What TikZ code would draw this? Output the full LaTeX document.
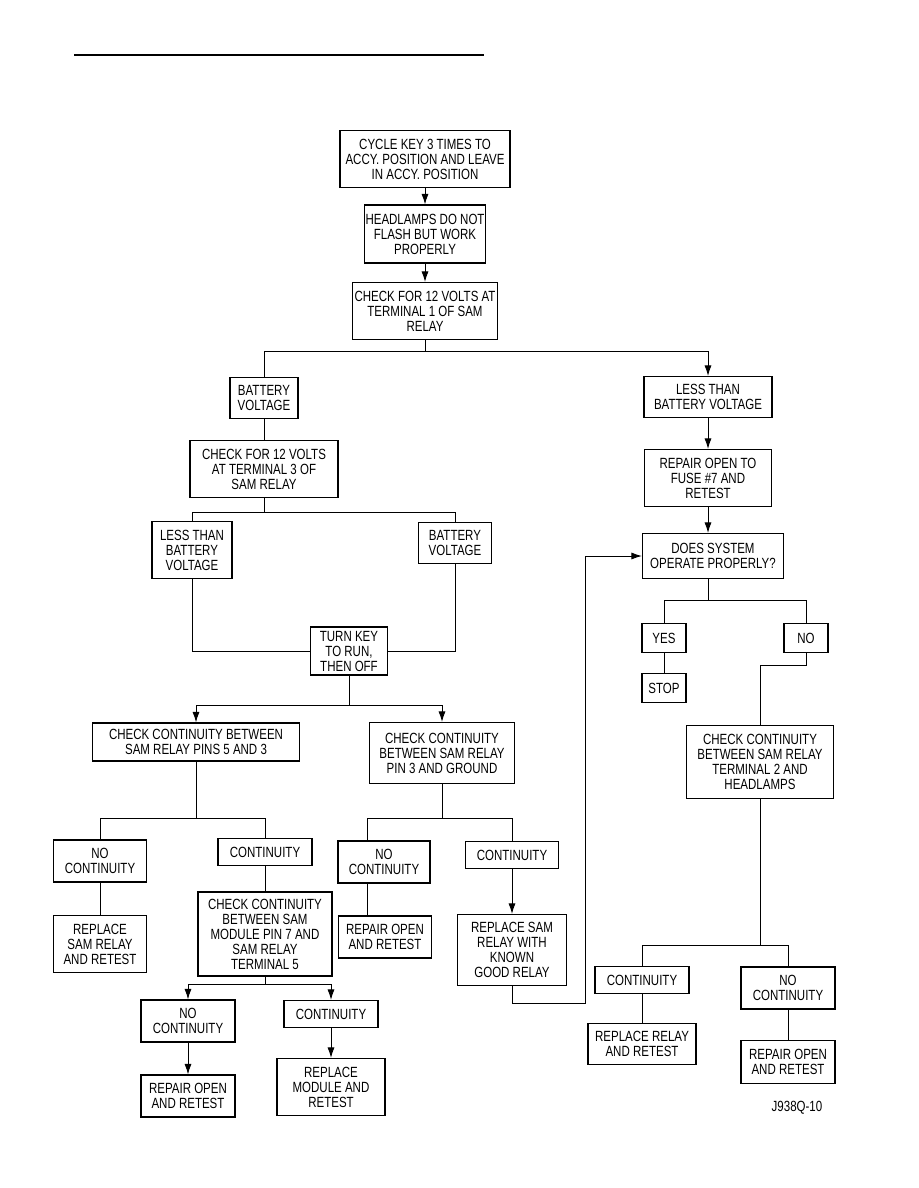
\documentclass[tikz,border=0pt]{standalone}
\usepackage{fontspec}
\setmainfont{Liberation Sans}[FakeStretch=0.78]
\usetikzlibrary{positioning,arrows.meta}

\begin{document}
\begin{tikzpicture}[x=0.03cm, y=-0.03cm, >={Latex[length=9pt,width=6pt]},
    line width=0.8pt,
    font=\fontsize{12.6}{12.8}\selectfont,
    sbox/.style={draw, line width=0.9pt, align=center, inner sep=1pt}
]
    \useasboundingbox (0,0) rectangle (918,1188);
    % Heading rule
    \draw[line width=2.2pt] (74,55) -- (484,55);

    % Start of the test
    \node[sbox, minimum width=5.1cm, minimum height=1.71cm] (cyc) at (425,159)
        {CYCLE KEY 3 TIMES TO\\ACCY. POSITION AND LEAVE\\IN ACCY. POSITION};
    \node[sbox, minimum width=3.6cm, minimum height=1.74cm] (head) at (425,234)
        {HEADLAMPS DO NOT\\FLASH BUT WORK\\PROPERLY};
    \node[sbox, minimum width=4.35cm, minimum height=1.71cm] (chk1) at (425,311)
        {CHECK FOR 12 VOLTS AT\\TERMINAL 1 OF SAM\\RELAY};

    % Left branch (terminal 1 ok)
    \node[sbox, minimum width=2.04cm, minimum height=1.23cm] (bat1) at (264,398)
        {BATTERY\\VOLTAGE};
    \node[sbox, minimum width=4.44cm, minimum height=1.71cm] (chk3) at (264,469)
        {CHECK FOR 12 VOLTS\\AT TERMINAL 3 OF\\SAM RELAY};
    \node[sbox, minimum width=2.4cm, minimum height=1.71cm] (less2) at (192,550)
        {LESS THAN\\BATTERY\\VOLTAGE};
    \node[sbox, minimum width=2.19cm, minimum height=1.23cm] (bat2) at (455,543)
        {BATTERY\\VOLTAGE};
    \node[sbox, minimum width=2.31cm, minimum height=1.44cm] (turn) at (349,651)
        {TURN KEY\\TO RUN,\\THEN OFF};
    \node[sbox, minimum width=6.21cm, minimum height=1.14cm] (pin53) at (196,742)
        {CHECK CONTINUITY BETWEEN\\SAM RELAY PINS 5 AND 3};
    \node[sbox, minimum width=4.35cm, minimum height=1.83cm] (pin3g) at (442,753)
        {CHECK CONTINUITY\\BETWEEN SAM RELAY\\PIN 3 AND GROUND};

    % Pins 5 and 3
    \node[sbox, minimum width=2.79cm, minimum height=1.26cm] (noc1) at (100,861)
        {NO\\CONTINUITY};
    \node[sbox, minimum width=2.79cm, minimum height=1.71cm] (rsr) at (100,944)
        {REPLACE\\SAM RELAY\\AND RETEST};
    \node[sbox, minimum width=2.82cm, minimum height=0.81cm] (con1) at (265,852)
        {CONTINUITY};
    \node[sbox, minimum width=4.02cm, minimum height=2.52cm] (chkmod) at (265,934)
        {CHECK CONTINUITY\\BETWEEN SAM\\MODULE PIN 7 AND\\SAM RELAY\\TERMINAL 5};
    \node[sbox, minimum width=2.82cm, minimum height=1.26cm] (noc3) at (188,1021)
        {NO\\CONTINUITY};
    \node[sbox, minimum width=2.82cm, minimum height=0.81cm] (con3) at (331,1014)
        {CONTINUITY};
    \node[sbox, minimum width=2.82cm, minimum height=1.26cm] (rop3) at (188,1096)
        {REPAIR OPEN\\AND RETEST};
    \node[sbox, minimum width=3.24cm, minimum height=1.71cm] (rmod) at (331,1087)
        {REPLACE\\MODULE AND\\RETEST};

    % Pin 3 and ground
    \node[sbox, minimum width=2.76cm, minimum height=1.26cm] (noc2) at (384,862)
        {NO\\CONTINUITY};
    \node[sbox, minimum width=2.79cm, minimum height=1.26cm] (rop2) at (385,937)
        {REPAIR OPEN\\AND RETEST};
    \node[sbox, minimum width=2.79cm, minimum height=0.81cm] (con2) at (512,855)
        {CONTINUITY};
    \node[sbox, minimum width=3.27cm, minimum height=2.13cm] (rsg) at (512,950)
        {REPLACE SAM\\RELAY WITH\\KNOWN\\GOOD RELAY};

    % Right branch (terminal 1 low)
    \node[sbox, minimum width=3.84cm, minimum height=1.23cm] (less1) at (708,397)
        {LESS THAN\\BATTERY VOLTAGE};
    \node[sbox, minimum width=3.81cm, minimum height=1.71cm] (rep7) at (708,478)
        {REPAIR OPEN TO\\FUSE \#7 AND\\RETEST};
    \node[sbox, minimum width=4.23cm, minimum height=1.35cm] (does) at (713,556)
        {DOES SYSTEM\\OPERATE PROPERLY?};
    \node[sbox, minimum width=1.32cm, minimum height=0.87cm] (yes) at (664,638) {YES};
    \node[sbox, minimum width=1.32cm, minimum height=0.87cm] (stop) at (664,688) {STOP};
    \node[sbox, minimum width=1.32cm, minimum height=0.87cm] (no) at (806,638) {NO};
    \node[sbox, minimum width=4.41cm, minimum height=2.19cm] (chk2) at (760,762)
        {CHECK CONTINUITY\\BETWEEN SAM RELAY\\TERMINAL 2 AND\\HEADLAMPS};
    \node[sbox, minimum width=2.82cm, minimum height=0.81cm] (con4) at (642,980)
        {CONTINUITY};
    \node[sbox, minimum width=2.82cm, minimum height=1.26cm] (noc4) at (788,988)
        {NO\\CONTINUITY};
    \node[sbox, minimum width=3.24cm, minimum height=1.23cm] (rrel) at (642,1044)
        {REPLACE RELAY\\AND RETEST};
    \node[sbox, minimum width=2.82cm, minimum height=1.29cm] (rop4) at (788,1062)
        {REPAIR OPEN\\AND RETEST};

    \node (fig) at (797,1108) {J938Q-10};

    % Junction points
    \coordinate (j1) at (425,351);
    \coordinate (j2) at (264,512);
    \coordinate (j3) at (349,705);
    \coordinate (j4) at (196,818);
    \coordinate (j5) at (265,984);
    \coordinate (j6) at (442,818);
    \coordinate (j7) at (585,1003);
    \coordinate (j8) at (708,600);
    \coordinate (j9) at (760,665);
    \coordinate (j10) at (760,945);

    % Connectors
    \draw[->] (cyc) -- (head);
    \draw[->] (head) -- (chk1);
    \draw (chk1) -- (j1);
    \draw (j1) -| (bat1);
    \draw[->] (j1) -| (less1);
    \draw (bat1) -- (chk3);
    \draw[->] (less1) -- (rep7);
    \draw[->] (rep7) -- (rep7 |- does.north);
    \draw (chk3) -- (j2);
    \draw (j2) -| (less2);
    \draw (j2) -| (bat2);
    \draw (less2) |- (turn);
    \draw (bat2) |- (turn);
    \draw (turn) -- (j3);
    \draw[->] (j3) -| (pin53);
    \draw[->] (j3) -| (pin3g);

    \draw (pin53) -- (j4);
    \draw (j4) -| (noc1);
    \draw (j4) -| (con1);
    \draw (noc1) -- (rsr);
    \draw (con1) -- (chkmod);
    \draw (chkmod) -- (j5);
    \draw[->] (j5) -| (noc3);
    \draw[->] (j5) -| (con3);
    \draw[->] (noc3) -- (rop3);
    \draw[->] (con3) -- (rmod);

    \draw (pin3g) -- (j6);
    \draw (j6) -| ([xshift=-0.51cm]noc2.north);
    \draw ([xshift=-0.51cm]noc2.south) -- ([xshift=-0.54cm]rop2.north);
    \draw (j6) -| (con2);
    \draw[->] (con2) -- (rsg);
    \draw[->] (rsg) |- (j7) |- (does);

    \draw (does.south -| j8) -- (j8);
    \draw (j8) -| (yes);
    \draw (j8) -| (no);
    \draw (yes) -- (stop);
    \draw (no) |- (j9) -- (chk2);
    \draw (chk2) -- (j10);
    \draw (j10) -| (con4);
    \draw (j10) -| (noc4);
    \draw (con4) -- (rrel);
    \draw (noc4) -- (rop4);
\end{tikzpicture}
\end{document}
